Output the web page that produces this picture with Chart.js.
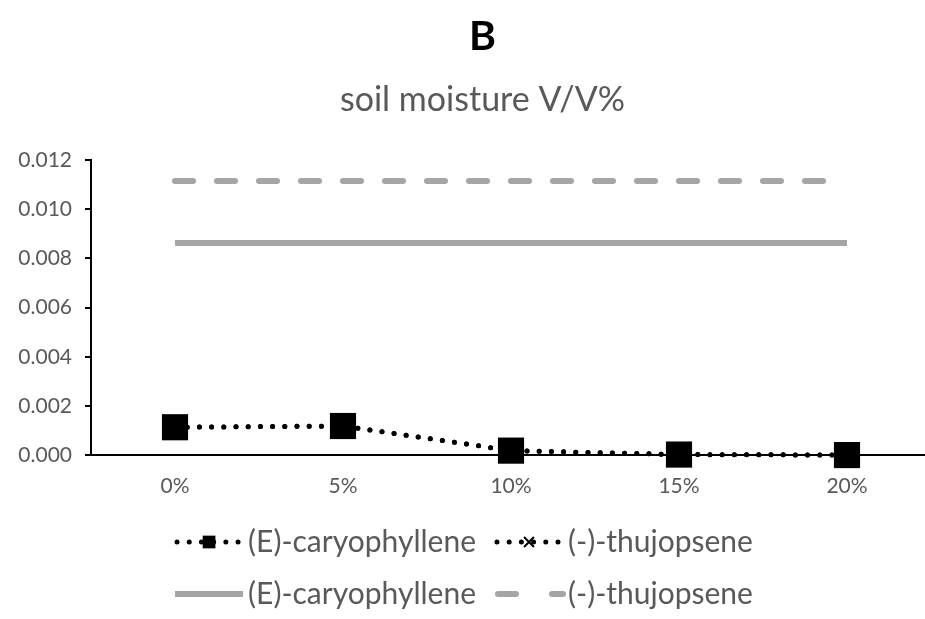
<!DOCTYPE html>
<html>
<head>
<meta charset="utf-8">
<title>soil moisture V/V%</title>
<script src="https://cdn.jsdelivr.net/npm/chart.js@4"></script>
<style>
  html, body { margin: 0; padding: 0; background: #fff; overflow: hidden; }
  /* the plot runs a few pixels past the right edge of the window */
  #wrap { width: 931px; height: 619px; }
</style>
</head>
<body>
<div id="wrap"><canvas id="moisture"></canvas></div>
<script>
// soil moisture levels
var LEVELS = ['0%', '5%', '10%', '15%', '20%'];

// measured contents at each moisture level
var caryophyllene = [0.00114, 0.00119, 0.00019, 0.00003, 0.00001];
var thujopsene = [0.00114, 0.00119, 0.00019, 0.00003, 0.00001];

// reference levels (flat across all moisture levels)
var caryophylleneRef = [0.00863, 0.00863, 0.00863, 0.00863, 0.00863];
var thujopseneRef = [0.01115, 0.01115, 0.01115, 0.01115, 0.01115];

var Y_TICKS = [0, 0.002, 0.004, 0.006, 0.008, 0.010, 0.012];

var TEXT = '#595959';
var GRAY = '#a5a5a5';
var FONT = 'Lato, "Open Sans", sans-serif';

// titles are centred over the span [left, right] rather than the full canvas
var titleShift = {
  id: 'titleShift',
  afterLayout: function(chart, args, opts) {
    chart.boxes.forEach(function(box) {
      if (box.options && box.options.text !== undefined && box.fullSize) {
        box.left = opts.left;
        box.right = opts.right;
        box.width = opts.right - opts.left;
      }
    });
  }
};

// two-row legend under the plot, drawing each dataset's own line style
var rowLegend = {
  id: 'rowLegend',
  afterDraw: function(chart, args, opts) {
    var ctx = chart.ctx;
    var sets = chart.data.datasets;
    var sampleW = opts.sampleWidth, gap = opts.textGap, itemGap = opts.itemGap;
    ctx.save();
    ctx.font = opts.fontSize + 'px ' + FONT;
    ctx.textBaseline = 'middle';
    opts.rows.forEach(function(row, r) {
      var y = opts.top + r * opts.rowHeight;
      var widths = row.map(function(i) {
        return sampleW + gap + ctx.measureText(sets[i].label).width;
      });
      var total = widths.reduce(function(a, b) { return a + b; }, 0) + itemGap * (row.length - 1);
      var x = opts.center - total / 2;
      row.forEach(function(i, k) {
        var ds = sets[i];
        ctx.save();
        ctx.strokeStyle = ds.borderColor;
        ctx.lineWidth = ds.borderWidth;
        ctx.lineCap = ds.borderCapStyle || 'butt';
        ctx.setLineDash(ds.legendDash || ds.borderDash || []);
        ctx.beginPath();
        ctx.moveTo(x + (ds.legendInset || 0), y);
        ctx.lineTo(x + sampleW, y);
        ctx.stroke();
        ctx.restore();
        if (ds.pointRadius > 0) {
          ctx.save();
          ctx.fillStyle = ds.pointBackgroundColor;
          ctx.strokeStyle = ds.pointBorderColor;
          ctx.lineWidth = ds.legendPointBorder;
          Chart.helpers.drawPoint(ctx, {
            pointStyle: ds.pointStyle,
            radius: ds.legendPointRadius,
            rotation: 0,
            borderWidth: ds.legendPointBorder
          }, x + sampleW / 2, y);
          ctx.restore();
        }
        ctx.fillStyle = TEXT;
        ctx.textAlign = 'left';
        ctx.fillText(ds.label, x + sampleW + gap, y);
        x += widths[k] + itemGap;
      });
    });
    ctx.restore();
  }
};

var ctx = document.getElementById('moisture').getContext('2d');
var chart = new Chart(ctx, {
  type: 'line',
  data: {
    labels: LEVELS,
    datasets: [{
      label: '(E)-caryophyllene',
      data: caryophyllene,
      borderColor: '#000',
      borderWidth: 5,
      borderDash: [0, 12.2],
      borderCapStyle: 'round',
      pointStyle: 'rect',
      pointRadius: 18.5,
      pointHoverRadius: 18.5,
      pointBackgroundColor: '#000',
      pointBorderColor: '#000',
      pointBorderWidth: 0,
      legendPointRadius: 9,
      legendPointBorder: 0,
      legendInset: 2,
      clip: false,
      tension: 0
    }, {
      label: '(-)-thujopsene',
      data: thujopsene,
      borderColor: '#000',
      borderWidth: 5,
      borderDash: [0, 12.2],
      borderCapStyle: 'round',
      pointStyle: 'crossRot',
      pointRadius: 7,
      pointHoverRadius: 7,
      pointBackgroundColor: '#000',
      pointBorderColor: '#000',
      pointBorderWidth: 2,
      legendPointRadius: 7,
      legendPointBorder: 2,
      legendInset: 2,
      clip: false,
      tension: 0
    }, {
      label: '(E)-caryophyllene',
      data: caryophylleneRef,
      borderColor: GRAY,
      borderWidth: 6,
      borderCapStyle: 'butt',
      pointRadius: 0,
      tension: 0
    }, {
      label: '(-)-thujopsene',
      data: thujopseneRef,
      borderColor: GRAY,
      borderWidth: 6,
      borderDash: [18, 24],
      legendDash: [18, 36],
      legendInset: 3,
      borderCapStyle: 'round',
      pointRadius: 0,
      tension: 0
    }]
  },
  plugins: [titleShift, rowLegend],
  options: {
    responsive: true,
    maintainAspectRatio: false,
    animation: false,
    events: [],
    layout: {
      autoPadding: false,
      padding: { left: 0, right: 0, top: 0, bottom: 102.5 }
    },
    scales: {
      x: {
        offset: true,
        grid: { display: false, drawTicks: false },
        border: { display: true, color: '#000', width: 2 },
        ticks: {
          color: TEXT,
          padding: 18,
          font: { family: FONT, size: 21 }
        }
      },
      y: {
        min: 0,
        max: 0.012,
        afterFit: function(scale) { scale.width = 91; },
        afterBuildTicks: function(scale) {
          scale.ticks = Y_TICKS.map(function(v) { return { value: v }; });
        },
        grid: {
          drawOnChartArea: false,
          drawTicks: true,
          tickLength: 6,
          color: '#000',
          lineWidth: 2
        },
        border: { display: true, color: '#000', width: 2 },
        ticks: {
          color: TEXT,
          padding: 13,
          font: { family: FONT, size: 21 },
          callback: function(v) { return Number(v).toFixed(3); }
        }
      }
    },
    plugins: {
      legend: { display: false },
      tooltip: { enabled: false },
      title: {
        display: true,
        text: 'B',
        color: '#000',
        font: { family: FONT, size: 41, weight: 'bold' },
        padding: { top: 12.5, bottom: 0 }
      },
      subtitle: {
        display: true,
        text: 'soil moisture V/V%',
        color: TEXT,
        font: { family: FONT, size: 34 },
        padding: { top: 17.9, bottom: 39.6 }
      },
      titleShift: { left: 40, right: 925 },
      rowLegend: {
        rows: [[0, 1], [2, 3]],
        center: 464,
        top: 542,
        rowHeight: 52,
        sampleWidth: 68,
        textGap: 5,
        itemGap: 19,
        fontSize: 30
      }
    }
  }
});
</script>
</body>
</html>
